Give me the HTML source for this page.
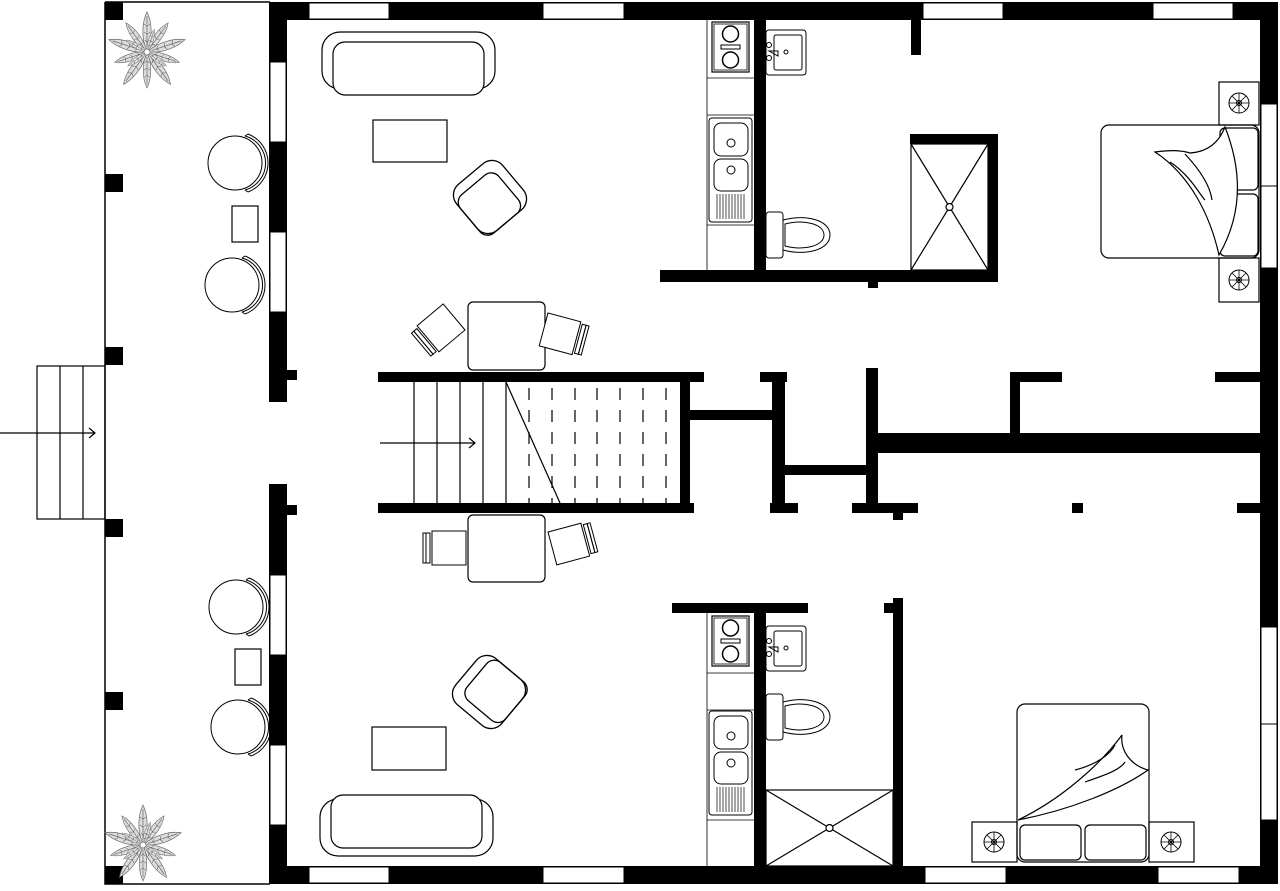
<!DOCTYPE html>
<html><head><meta charset="utf-8"><style>html,body{margin:0;padding:0;background:#fff}svg{display:block}</style></head>
<body>
<svg width="1280" height="891" viewBox="0 0 1280 891" xmlns="http://www.w3.org/2000/svg">
<defs>
<g id="stove"><rect x="0" y="0" width="37" height="50" fill="none" stroke="#000" stroke-width="1.2"/><rect x="2" y="2" width="33" height="46" fill="none" stroke="#000" stroke-width="0.8"/><circle cx="18.5" cy="12" r="8" fill="none" stroke="#000" stroke-width="1.5"/><circle cx="18.5" cy="38" r="8" fill="none" stroke="#000" stroke-width="1.5"/><rect x="9" y="23" width="19" height="4" fill="none" stroke="#000"/></g>
<g id="ksink"><rect x="0" y="0" width="43" height="104" rx="3" fill="none" stroke="#000"/><rect x="5" y="5" width="34" height="33" rx="7" fill="none" stroke="#000"/><circle cx="22" cy="25" r="4" fill="none" stroke="#000"/><rect x="5" y="41" width="34" height="32" rx="7" fill="none" stroke="#000"/><circle cx="22" cy="52" r="4" fill="none" stroke="#000"/><path d="M8 76V101M11 76V101M14 76V101M17 76V101M20 76V101M23 76V101M26 76V101M29 76V101M32 76V101M35 76V101" stroke="#000" stroke-width="0.7"/></g>
<g id="bsink"><rect x="0" y="0" width="40" height="45" rx="3" fill="none" stroke="#000"/><rect x="8" y="5" width="28" height="35" rx="2" fill="none" stroke="#000"/><circle cx="3" cy="15" r="2.5" fill="none" stroke="#000"/><circle cx="3" cy="28" r="2.5" fill="none" stroke="#000"/><path d="M3 21H12V26Z" fill="none" stroke="#000"/><circle cx="20" cy="22" r="2" fill="none" stroke="#000"/></g>
<g id="toilet"><rect x="0" y="0" width="17" height="46" rx="3" fill="#fff" stroke="#000"/><path d="M17 8C40 2 64 8 64 23C64 38 40 44 17 38Z" fill="none" stroke="#000"/><path d="M19 12C38 7 58 12 58 23C58 34 38 39 19 34Z" fill="none" stroke="#000"/></g>
<g id="wheel"><circle r="10" fill="none" stroke="#000"/><circle r="2.5" fill="none" stroke="#000"/><path d="M-10 0H10M0 -10V10M-7 -7L7 7M-7 7L7 -7" stroke="#000" stroke-width="0.8"/></g>
<g id="armchair"><rect x="-30" y="-30" width="60" height="60" rx="14" fill="#fff" stroke="#000" stroke-width="1.3"/><rect x="-30" y="-20" width="50" height="50" rx="10" fill="none" stroke="#000" stroke-width="1.3"/></g>
<g id="leaf"><path d="M0 0C-6 -14 -5 -30 0 -40C5 -30 6 -14 0 0Z M0 -5L0 -36 M-2 -12L0 -10L2 -12 M-3 -20L0 -18L3 -20 M-3 -28L0 -26L3 -28"/></g>
<g id="plant" stroke="#666" fill="#ddd" stroke-width="0.7">
<use href="#leaf" transform="rotate(0)"/><use href="#leaf" transform="rotate(36) scale(0.9)"/><use href="#leaf" transform="rotate(72)"/><use href="#leaf" transform="rotate(108) scale(0.85)"/><use href="#leaf" transform="rotate(144)"/><use href="#leaf" transform="rotate(180) scale(0.9)"/><use href="#leaf" transform="rotate(216)"/><use href="#leaf" transform="rotate(252) scale(0.85)"/><use href="#leaf" transform="rotate(288)"/><use href="#leaf" transform="rotate(324) scale(0.9)"/>
<use href="#leaf" transform="rotate(18) scale(0.6)"/><use href="#leaf" transform="rotate(126) scale(0.6)"/><use href="#leaf" transform="rotate(234) scale(0.6)"/><use href="#leaf" transform="rotate(300) scale(0.6)"/>
<circle r="3" fill="#fff"/></g>
<g id="pchair"><circle r="27" fill="none" stroke="#000"/><path d="M10 -27A28 28 0 0 1 10 27M13 -29A31 31 0 0 1 13 29M13 -29L10 -27M13 29L10 27" fill="none" stroke="#000"/></g>
<g id="dchair"><path d="M0 0H34V34H0Z" fill="#fff" stroke="#000"/><rect x="36" y="2" width="4" height="30" fill="none" stroke="#000"/><rect x="40" y="2" width="3" height="30" fill="none" stroke="#000"/></g>
</defs>
<g fill="#000">
<path d="M105 2H270M105 2V884H270" stroke="#000" fill="none" stroke-width="1.5"/>
<rect x="105" y="2" width="18" height="18"/><rect x="105" y="174" width="18" height="18"/><rect x="105" y="347" width="18" height="18"/><rect x="105" y="519" width="18" height="18"/><rect x="105" y="692" width="18" height="18"/><rect x="105" y="866" width="18" height="18"/>
<rect x="269" y="2" width="1009" height="18"/>
<rect x="1260" y="2" width="18" height="882"/>
<rect x="269" y="866" width="1009" height="18"/>
<rect x="269" y="2" width="18" height="400"/><rect x="287" y="370" width="10" height="10"/>
<rect x="269" y="484" width="18" height="400"/><rect x="287" y="505" width="10" height="10"/>
</g>
<g fill="#fff" stroke="#000" stroke-width="1">
<rect x="309" y="3" width="80" height="16"/><rect x="543" y="3" width="81" height="16"/><rect x="923" y="3" width="80" height="16"/><rect x="1153" y="3" width="80" height="16"/>
<rect x="309" y="867" width="80" height="16"/><rect x="543" y="867" width="81" height="16"/><rect x="925" y="867" width="81" height="16"/><rect x="1158" y="867" width="81" height="16"/>
<rect x="270" y="62" width="16" height="80"/><rect x="270" y="232" width="16" height="80"/>
<rect x="270" y="575" width="16" height="80"/><rect x="270" y="745" width="16" height="80"/>
<rect x="1261" y="104" width="16" height="82"/><rect x="1261" y="186" width="16" height="82"/>
<rect x="1261" y="627" width="16" height="97"/><rect x="1261" y="724" width="16" height="96"/>
</g>
<g fill="#000">
<rect x="754" y="20" width="12" height="262"/><rect x="660" y="270" width="338" height="12"/>
<rect x="910" y="134" width="88" height="10"/><rect x="988" y="134" width="10" height="148"/>
<rect x="911" y="20" width="10" height="35"/><rect x="868" y="282" width="10" height="6"/>
<rect x="378" y="372" width="326" height="10"/><rect x="378" y="503" width="316" height="10"/><rect x="680" y="382" width="10" height="121"/>
<rect x="690" y="410" width="85" height="10"/>
<rect x="772" y="372" width="13" height="141"/><rect x="760" y="372" width="27" height="10"/><rect x="770" y="503" width="28" height="10"/>
<rect x="785" y="465" width="83" height="10"/>
<rect x="866" y="368" width="12" height="145"/><rect x="852" y="503" width="66" height="10"/><rect x="893" y="513" width="10" height="7"/>
<rect x="878" y="433" width="382" height="20"/>
<rect x="1010" y="372" width="10" height="61"/><rect x="1010" y="372" width="52" height="10"/>
<rect x="1215" y="372" width="45" height="10"/>
<rect x="1072" y="503" width="11" height="10"/><rect x="1237" y="503" width="23" height="10"/>
<rect x="672" y="603" width="136" height="10"/><rect x="754" y="613" width="12" height="253"/>
<rect x="893" y="598" width="10" height="268"/><rect x="884" y="603" width="9" height="10"/>
</g>
<g fill="none" stroke="#000" stroke-width="1.2">
<rect x="37" y="366" width="68" height="153"/><path d="M60 366V519M83 366V519"/>
<path d="M0 433H95M89 428L95 433L89 438"/>
<path d="M414 382V503M437 382V503M460 382V503M483 382V503M506 382V503"/>
<path d="M529 382V503M552 382V503M575 382V503M597 382V503M620 382V503M643 382V503M666 382V503" stroke-dasharray="12 10" stroke-dashoffset="-6"/>
<path d="M506 382L560 503"/>
<path d="M380 443H475M469 438L475 443L469 448"/>
<path d="M707 20V272M707 613V866" stroke-width="0.8"/>
<path d="M707 78H754M707 115H754M707 225H754M707 673H754M707 710H754M707 820H754" stroke-width="0.8"/>
<rect x="911" y="144" width="77" height="126"/><path d="M911 144L988 270M988 144L911 270"/><circle cx="949.5" cy="207" r="3.5" fill="#fff"/>
<rect x="766" y="790" width="127" height="76"/><path d="M766 790L893 866M893 790L766 866"/><circle cx="829.5" cy="828" r="3.5" fill="#fff"/>
<rect x="322" y="32" width="173" height="57" rx="18"/><rect x="333" y="42" width="151" height="53" rx="12" fill="#fff"/>
<rect x="373" y="120" width="74" height="42"/>
<rect x="468" y="302" width="77" height="68" rx="5"/>
<rect x="372" y="727" width="74" height="43"/>
<rect x="320" y="799" width="173" height="57" rx="18"/><rect x="331" y="795" width="151" height="53" rx="12" fill="#fff"/>
<rect x="468" y="515" width="77" height="67" rx="5"/>
<rect x="232" y="206" width="26" height="36"/><rect x="235" y="649" width="26" height="36"/>
<rect x="1101" y="125" width="158" height="133" rx="8"/>
<rect x="1220" y="128" width="38" height="62" rx="5"/><rect x="1220" y="194" width="38" height="62" rx="5"/>
<rect x="1219" y="82" width="40" height="43"/><rect x="1219" y="258" width="40" height="44"/>
<path d="M1190 153C1205 152 1218 145 1225 127C1240 165 1245 210 1219 255C1210 215 1190 175 1155 152C1170 150 1180 150 1190 153Z" fill="#fff"/>
<path d="M1170 162C1190 175 1200 195 1205 200M1185 154C1200 170 1210 185 1212 200" />
<rect x="1017" y="704" width="132" height="158" rx="8"/>
<rect x="1020" y="825" width="61" height="35" rx="5"/><rect x="1085" y="825" width="61" height="35" rx="5"/>
<rect x="972" y="822" width="45" height="40"/><rect x="1149" y="822" width="45" height="40"/>
<path d="M1018 820C1060 800 1100 765 1122 735C1120 750 1130 765 1148 770C1120 790 1070 810 1018 820Z" fill="#fff"/>
<path d="M1075 770C1095 765 1110 755 1115 745M1085 782C1105 775 1120 770 1125 762"/>
</g>
<use href="#stove" x="712" y="22"/><use href="#ksink" x="709" y="118"/>
<use href="#stove" x="712" y="616"/><use href="#ksink" x="709" y="711"/>
<use href="#bsink" x="766" y="30"/><use href="#toilet" x="766" y="212"/>
<use href="#bsink" x="766" y="626"/><use href="#toilet" x="766" y="694"/>
<use href="#wheel" x="1239" y="103"/><use href="#wheel" x="1239" y="280"/>
<use href="#wheel" x="994" y="842"/><use href="#wheel" x="1171" y="842"/>
<use href="#armchair" transform="translate(490,197) rotate(-40)"/>
<use href="#armchair" transform="translate(489,692) rotate(-140)"/>
<use href="#plant" x="147" y="52"/><use href="#plant" x="143" y="845"/>
<use href="#pchair" x="235" y="163"/><use href="#pchair" x="232" y="285"/>
<use href="#pchair" x="236" y="607"/><use href="#pchair" x="238" y="727"/>
<use href="#dchair" transform="translate(548,313) rotate(15)"/>
<use href="#dchair" transform="translate(465,330) rotate(140)"/>
<use href="#dchair" transform="translate(548,532) rotate(-15)"/>
<use href="#dchair" transform="translate(466,565) rotate(180)"/>
</svg>
</body></html>
